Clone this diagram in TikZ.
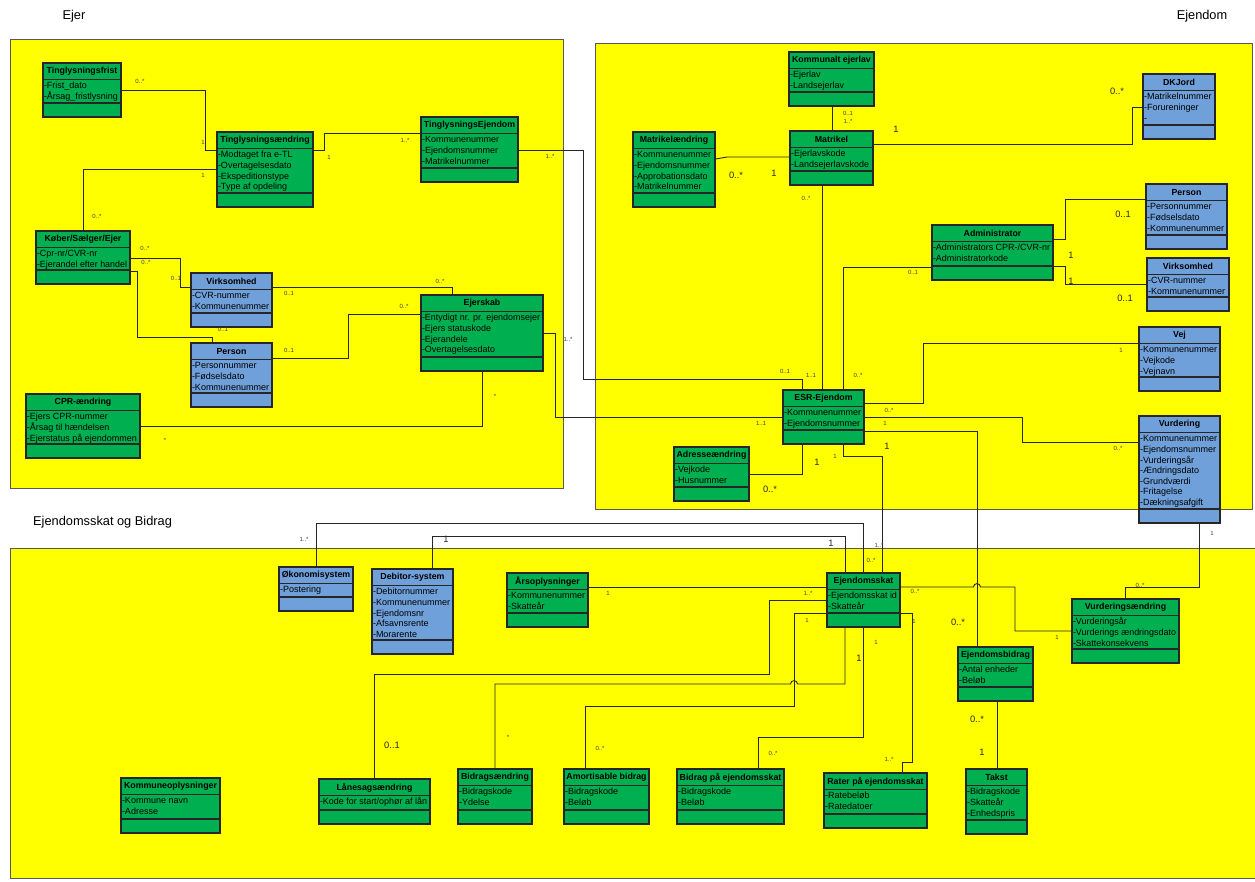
\documentclass[tikz,border=0pt]{standalone}
\usepackage{fontspec}
\usepackage{graphicx}
\setmainfont{Liberation Sans}
\usetikzlibrary{fit}

\definecolor{regionyellow}{HTML}{FFFF00}
\definecolor{classgreen}{HTML}{00B050}
\definecolor{classblue}{HTML}{70A0DA}

\tikzset{
  region/.style={draw=black!65, fill=regionyellow, line width=0.9pt},
  greenclass/.style={fill=classgreen},
  blueclass/.style={fill=classblue},
  classframe/.style={draw=black!85, line width=1.1pt, inner sep=0pt},
  assoc/.style={draw=black!85, line width=0.9pt},
  multS/.style={font=\fontsize{6}{6}\selectfont, text=black!75, inner sep=0pt},
  multL/.style={font=\fontsize{9.3}{9.3}\selectfont, text=black!85, inner sep=0pt},
  ctitle/.style={font=\bfseries\fontsize{8.8}{9.5}\selectfont, inner sep=0pt},
  cattr/.style={font=\fontsize{9}{10.6}\selectfont, inner sep=0pt, anchor=north west},
  regionlabel/.style={font=\fontsize{12.8}{14}\selectfont, inner sep=0pt},
}

% squeeze a text horizontally when it is wider than the room given (in pt)
\newsavebox\umlsqueezebox
\newcommand{\umlsqueeze}[2]{%
  \sbox\umlsqueezebox{#2}%
  \ifdim\wd\umlsqueezebox>#1pt\relax
    \resizebox{#1pt}{\height}{\usebox\umlsqueezebox}%
  \else
    \usebox\umlsqueezebox
  \fi}

% UML class: name, fill style, x1, y1, x2, y2, title, attributes
\newcommand{\umlclass}[8]{%
  \pgfmathsetmacro\umlroom{#5-#3-4}%
  \node[classframe, #2, fit={(#3,#4) (#5,#6)}] (#1) {};
  \draw[classframe] (#3,{#4+16.5}) -- (#5,{#4+16.5});
  \draw[classframe] (#3,{#6-14}) -- (#5,{#6-14});
  \node[ctitle] (#1-title) at ({(#3+#5)/2},{#4+8.5}) {\umlsqueeze{\umlroom}{#7}};
  \node[cattr] (#1-attr) at ({#3+0.8},{#4+18.3})
    {\umlsqueeze{\umlroom}{\begin{tabular}{@{}l@{}}#8\end{tabular}}};
}

\begin{document}
\begin{tikzpicture}[x=1pt,y=-1pt]
\useasboundingbox (0,0) rectangle (1255,881);

% package areas
\path[region] (10,39) rectangle (563,488);
\path[region] (595,43) rectangle (1252,509);
\path[region] (10,548) rectangle (1262,878);
\node[regionlabel] (lblEjer) at (74,16) {Ejer};
\node[regionlabel] (lblEjendom) at (1202,16) {Ejendom};
\node[regionlabel, anchor=west] (lblSkat) at (33,522) {Ejendomsskat og Bidrag};

% ---------- Ejer ----------
\umlclass{tfrist}{greenclass}{43}{63}{121}{117}{Tinglysningsfrist}{-Frist\_dato\\-Årsag\_fristlysning}
\umlclass{tand}{greenclass}{217}{132}{313}{207}{Tinglysningsændring}{-Modtaget fra e-TL\\-Overtagelsesdato\\-Ekspeditionstype\\-Type af opdeling}
\umlclass{tejd}{greenclass}{421}{117}{518}{182}{TinglysningsEjendom}{-Kommunenummer\\-Ejendomsnummer\\-Matrikelnummer}
\umlclass{kse}{greenclass}{36}{231}{130}{284}{Køber/Sælger/Ejer}{-Cpr-nr/CVR-nr\\-Ejerandel efter handel}
\umlclass{virkL}{blueclass}{191}{273}{272}{327}{Virksomhed}{-CVR-nummer\\-Kommunenummer}
\umlclass{persL}{blueclass}{191}{343}{272}{407}{Person}{-Personnummer\\-Fødselsdato\\-Kommunenummer}
\umlclass{cpr}{greenclass}{26}{394}{140}{458}{CPR-ændring}{-Ejers CPR-nummer\\-Årsag til hændelsen\\-Ejerstatus på ejendommen}
\umlclass{ejskab}{greenclass}{421}{295}{543}{371}{Ejerskab}{-Entydigt nr. pr. ejendomsejer\\-Ejers statuskode\\-Ejerandele\\-Overtagelsesdato}

% ---------- Ejendom ----------
\umlclass{kejerlav}{greenclass}{789}{52}{874}{106}{Kommunalt ejerlav}{-Ejerlav\\-Landsejerlav}
\umlclass{matr}{greenclass}{790}{131}{873}{185}{Matrikel}{-Ejerlavskode\\-Landsejerlavskode}
\umlclass{matrand}{greenclass}{633}{132}{715}{207}{Matrikelændring}{-Kommunenummer\\-Ejendomsnummer\\-Approbationsdato\\-Matrikelnummer}
\umlclass{dkjord}{blueclass}{1143}{74}{1215}{139}{DKJord}{-Matrikelnummer\\-Forureninger\\-}
\umlclass{persR}{blueclass}{1146}{184}{1227}{249}{Person}{-Personnummer\\-Fødselsdato\\-Kommunenummer}
\umlclass{admin}{greenclass}{932}{225}{1053}{280}{Administrator}{-Administrators CPR-/CVR-nr\\-Administratorkode}
\umlclass{virkR}{blueclass}{1147}{258}{1229}{311}{Virksomhed}{-CVR-nummer\\-Kommunenummer}
\umlclass{vej}{blueclass}{1139}{327}{1220}{391}{Vej}{-Kommunenummer\\-Vejkode\\-Vejnavn}
\umlclass{vurd}{blueclass}{1139}{416}{1220}{523}{Vurdering}{-Kommunenummer\\-Ejendomsnummer\\-Vurderingsår\\-Ændringsdato\\-Grundværdi\\-Fritagelse\\-Dækningsafgift}
\umlclass{esr}{greenclass}{783}{390}{864}{444}{ESR-Ejendom}{-Kommunenummer\\-Ejendomsnummer}
\umlclass{adr}{greenclass}{674}{447}{749}{501}{Adresseændring}{-Vejkode\\-Husnummer}

% ---------- Ejendomsskat og Bidrag ----------
\umlclass{okon}{blueclass}{279}{567}{353}{611}{Økonomisystem}{-Postering}
\umlclass{debit}{blueclass}{372}{569}{453}{654}{Debitor-system}{-Debitornummer\\-Kommunenummer\\-Ejendomsnr\\-Afsavnsrente\\-Morarente}
\umlclass{aars}{greenclass}{507}{573}{588}{627}{Årsoplysninger}{-Kommunenummer\\-Skatteår}
\umlclass{eskat}{greenclass}{827}{573}{900}{627}{Ejendomsskat}{-Ejendomsskat id\\-Skatteår}
\umlclass{ebidrag}{greenclass}{958}{647}{1033}{701}{Ejendomsbidrag}{-Antal enheder\\-Beløb}
\umlclass{vurdand}{greenclass}{1072}{599}{1179}{663}{Vurderingsændring}{-Vurderingsår\\-Vurderings ændringsdato\\-Skattekonsekvens}
\umlclass{kommopl}{greenclass}{121}{778}{220}{833}{Kommuneoplysninger}{-Kommune navn\\-Adresse}
\umlclass{laan}{greenclass}{319}{779}{430}{824}{Lånesagsændring}{-Kode for start/ophør af lån}
\umlclass{bidrand}{greenclass}{458}{769}{532}{824}{Bidragsændring}{-Bidragskode\\-Ydelse}
\umlclass{amort}{greenclass}{564}{769}{649}{824}{Amortisable bidrag}{-Bidragskode\\-Beløb}
\umlclass{bidrpa}{greenclass}{677}{769}{784}{824}{Bidrag på ejendomsskat}{-Bidragskode\\-Beløb}
\umlclass{rater}{greenclass}{824}{773}{927}{828}{Rater på ejendomsskat}{-Ratebeløb\\-Ratedatoer}
\umlclass{takst}{greenclass}{966}{769}{1027}{834}{Takst}{-Bidragskode\\-Skatteår\\-Enhedspris}

% ---------- associations ----------
\draw[assoc] (tfrist.east |- 0,90) -- (205,90) -- (205,150) -- (tand.west |- 0,150);
\draw[assoc] (kse.north -| 83,0) -- (83,169) -- (tand.west |- 0,169);
\draw[assoc] (tand.east |- 0,150) -- (324,150) -- (324,133) -- (tejd.west |- 0,133);
\draw[assoc] (tejd.east |- 0,150) -- (583,150) -- (583,379) -- (802,379) -- (esr.north -| 802,0);
\draw[assoc] (ejskab.east |- 0,333) -- (555,333) -- (555,417) -- (esr.west |- 0,417);
\draw[assoc] (virkL.east |- 0,287) -- (452,287) -- (ejskab.north -| 452,0);
\draw[assoc] (persL.east |- 0,358) -- (348,358) -- (348,314) -- (ejskab.west |- 0,314);
\draw[assoc] (cpr.east |- 0,426) -- (482,426) -- (ejskab.south -| 482,0);
\draw[assoc] (kse.east |- 0,258) -- (180,258) -- (180,287) -- (virkL.west |- 0,287);
\draw[assoc] (kse.east |- 0,271) -- (137,271) -- (137,337) -- (212,337) -- (persL.north -| 212,0);

\draw[assoc] (kejerlav.south -| 832,0) -- (matr.north -| 832,0);
\draw[assoc] (matrand.east |- 0,159) -- (727,157) -- (matr.west |- 0,157);
\draw[assoc] (matr.east |- 0,144) -- (1132,144) -- (1132,107) -- (dkjord.west |- 0,107);
\draw[assoc] (matr.south -| 822,0) -- (esr.north -| 822,0);
\draw[assoc] (admin.west |- 0,267) -- (843,267) -- (esr.north -| 843,0);
\draw[assoc] (admin.east |- 0,239) -- (1065,239) -- (1065,199) -- (persR.west |- 0,199);
\draw[assoc] (admin.east |- 0,266) -- (1065,266) -- (1065,284) -- (virkR.west |- 0,284);
\draw[assoc] (vej.west |- 0,343) -- (923,343) -- (923,403) -- (esr.east |- 0,403);
\draw[assoc] (esr.east |- 0,417) -- (1022,417) -- (1022,442) -- (vurd.west |- 0,442);
\draw[assoc] (esr.east |- 0,431) -- (977,431) -- (ebidrag.north -| 977,0);
\draw[assoc] (adr.east |- 0,474) -- (802,474) -- (esr.south -| 802,0);
\draw[assoc] (esr.south -| 843,0) -- (843,456) -- (882,456) -- (eskat.north -| 882,0);

\draw[assoc] (eskat.north -| 863,0) -- (863,523) -- (316,523) -- (okon.north -| 316,0);
\draw[assoc] (eskat.north -| 845,0) -- (845,536) -- (432,536) -- (debit.north -| 432,0);
\draw[assoc] (aars.east |- 0,587) -- (eskat.west |- 0,587);
\draw[assoc] (eskat.west |- 0,600) -- (769,600) -- (769,674) -- (374,674) -- (laan.north -| 374,0);
\draw[assoc] (eskat.south -| 845,0) -- (845,684) -- (797.5,684)
  .. controls (797.5,679.5) and (790.5,679.5) .. (790.5,684) -- (495,684) -- (bidrand.north -| 495,0);
\draw[assoc] (eskat.west |- 0,613) -- (794,613) -- (794,706) -- (585,706) -- (amort.north -| 585,0);
\draw[assoc] (eskat.east |- 0,613) -- (912,613) -- (912,762) -- (902,762) -- (rater.north -| 902,0);
\draw[assoc] (eskat.south -| 863,0) -- (863,737) -- (758,737) -- (bidrpa.north -| 758,0);
\draw[assoc] (eskat.east |- 0,587) -- (973.5,587)
  .. controls (973.5,582.5) and (980.5,582.5) .. (980.5,587) -- (1015,587) -- (1015,631) -- (vurdand.west |- 0,631);
\draw[assoc] (vurd.south -| 1199,0) -- (1199,587) -- (1125,587) -- (vurdand.north -| 1125,0);
\draw[assoc] (ebidrag.south -| 997,0) -- (takst.north -| 997,0);

% ---------- multiplicities ----------
\node[multS] (m01) at (140,81) {0..*};
\node[multS] (m02) at (203,142) {1};
\node[multS] (m03) at (203,175) {1};
\node[multS] (m04) at (97,216) {0..*};
\node[multS] (m05) at (329,157) {1};
\node[multS] (m06) at (405,140) {1..*};
\node[multS] (m07) at (550,156) {1..*};
\node[multS] (m08) at (440,281) {0..*};
\node[multS] (m09) at (289,293) {0..1};
\node[multS] (m10) at (145,248) {0..*};
\node[multS] (m11) at (176,278) {0..1};
\node[multS] (m12) at (146,262) {0..*};
\node[multS] (m13) at (223,329) {0..1};
\node[multS] (m14) at (289,350) {0..1};
\node[multS] (m15) at (404,306) {0..*};
\node[multS] (m16) at (165,440) {*};
\node[multS] (m17) at (495,396) {*};
\node[multS] (m18) at (568,339) {1..*};

\node[multS] (m19) at (848,113) {0..1};
\node[multS] (m20) at (848,121) {1..*};
\node[multL] (m21) at (736,175) {0..*};
\node[multL] (m22) at (774,173) {1};
\node[multL] (m23) at (896,129) {1};
\node[multL] (m24) at (1117,91) {0..*};
\node[multS] (m25) at (806,198) {0..*};
\node[multS] (m26) at (811,375) {1..1};
\node[multS] (m27) at (858,375) {0..*};
\node[multS] (m28) at (913,272) {0..1};
\node[multS] (m29) at (785,371) {0..1};
\node[multL] (m30) at (1123,214) {0..1};
\node[multL] (m31) at (1071,255) {1};
\node[multL] (m32) at (1071,281) {1};
\node[multL] (m33) at (1125,298) {0..1};
\node[multS] (m34) at (1121,350) {1};
\node[multS] (m35) at (889,410) {0..*};
\node[multS] (m36) at (885,423) {1};
\node[multS] (m37) at (1118,448) {0..*};
\node[multS] (m38) at (761,423) {1..1};
\node[multL] (m39) at (887,446) {1};
\node[multS] (m40) at (835,456) {1};
\node[multL] (m41) at (817,462) {1};
\node[multL] (m42) at (770,489) {0..*};

\node[multS] (m43) at (304,539) {1..*};
\node[multL] (m44) at (446,539) {1};
\node[multL] (m45) at (831,543) {1};
\node[multS] (m46) at (879,545) {1..*};
\node[multS] (m47) at (871,560) {0..*};
\node[multS] (m48) at (608,593) {1};
\node[multS] (m49) at (808,593) {1..*};
\node[multS] (m50) at (915,591) {0..*};
\node[multL] (m51) at (958,622) {0..*};
\node[multS] (m52) at (1057,637) {1};
\node[multS] (m53) at (1212,533) {1};
\node[multS] (m54) at (1140,585) {0..*};
\node[multS] (m55) at (807,620) {1};
\node[multS] (m56) at (914,621) {1};
\node[multS] (m57) at (876,642) {1};
\node[multL] (m58) at (859,658) {1};
\node[multL] (m59) at (392,745) {0..1};
\node[multS] (m60) at (508,737) {*};
\node[multS] (m61) at (600,748) {0..*};
\node[multS] (m62) at (773,753) {0..*};
\node[multS] (m63) at (889,759) {1..*};
\node[multL] (m64) at (977,719) {0..*};
\node[multL] (m65) at (982,752) {1};
\end{tikzpicture}
\end{document}
